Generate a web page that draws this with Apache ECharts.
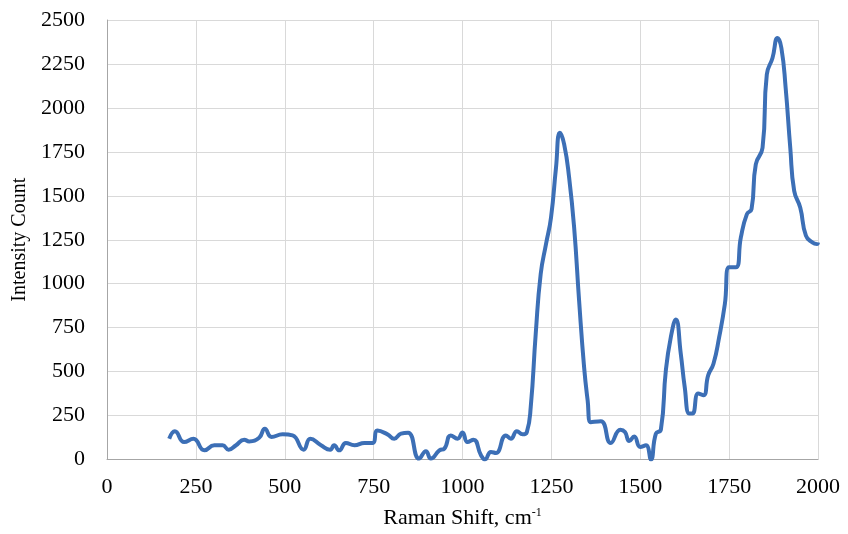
<!DOCTYPE html>
<html>
<head>
<meta charset="utf-8">
<script src="https://cdn.jsdelivr.net/npm/echarts@6/dist/echarts.min.js"></script>
<style>html,body{margin:0;padding:0;background:#fff;}#chart{width:848px;height:534px;}</style>
</head>
<body>
<div id="chart"></div>
<script>
const ramanShift = [175,191,217,243,274,302,325,342,363,386,400,428,444,463,494,522,553,572,602,628,639,653,672,696,724,747,761,789,808,827,847,878,897,911,935,949,967,986,1000,1014,1031,1052,1063,1080,1094,1122,1136,1153,1169,1181,1192,1206,1220,1235,1249,1263,1274,1286,1300,1314,1328,1342,1352,1361,1389,1417,1444,1457,1469,1483,1500,1516,1530,1544,1558,1572,1586,1600,1614,1625,1638,1647,1663,1678,1691,1706,1722,1738,1750,1769,1783,1800,1813,1825,1844,1856,1872,1886,1897,1909,1922,1933,1950,1966,1984,1997,2000];
const intensity = [118,161,99,118,52,81,81,56,81,113,103,124,175,128,143,137,56,118,81,56,81,52,94,81,94,94,165,143,118,147,152,5,47,5,52,62,137,118,154,99,113,24,0,43,37,137,118,161,143,156,300,716,1056,1226,1377,1660,1859,1793,1603,1320,904,526,337,212,218,94,169,156,105,131,71,81,0,147,170,507,696,797,602,413,262,262,375,366,479,545,696,885,1093,1093,1263,1396,1424,1679,1773,2190,2284,2397,2341,2114,1773,1528,1433,1273,1235,1226,1235];
const xTicks = [0,250,500,750,1000,1250,1500,1750,2000];
const yTicks = [0,250,500,750,1000,1250,1500,1750,2000,2250,2500];

const seriesData = ramanShift.map((x, i) => [x, intensity[i]]);
const font = 'Liberation Serif';
const chart = echarts.init(document.getElementById('chart'), null, {renderer: 'canvas'});
chart.setOption({
  animation: false,
  backgroundColor: '#ffffff',
  grid: {left: 107, right: 30, top: 20, bottom: 74.5, containLabel: false},
  xAxis: {
    type: 'value', min: xTicks[0], max: xTicks[xTicks.length-1], interval: 250,
    name: '{a|Raman Shift, cm}{s|-1}',
    nameLocation: 'middle', nameGap: 47,
    nameTextStyle: {rich: {
      a: {fontFamily: font, fontSize: 22, color: '#000'},
      s: {fontFamily: font, fontSize: 12, color: '#000', verticalAlign: 'top', padding: [0,0,11,0]}
    }},
    axisLine: {show: true, lineStyle: {color: '#a6a6a6', width: 1}},
    axisTick: {show: false},
    axisLabel: {fontFamily: font, fontSize: 22, color: '#000', margin: 17, formatter: v => String(v)},
    splitLine: {show: true, lineStyle: {color: '#d9d9d9', width: 1}}
  },
  yAxis: {
    type: 'value', min: yTicks[0], max: yTicks[yTicks.length-1], interval: 250,
    name: 'Intensity Count', nameLocation: 'middle', nameGap: 66,
    nameTextStyle: {fontFamily: font, fontSize: 20, color: '#000'},
    axisLine: {show: true, lineStyle: {color: '#a6a6a6', width: 1}},
    axisTick: {show: false},
    axisLabel: {fontFamily: font, fontSize: 22, color: '#000', margin: 22, formatter: v => String(v)},
    splitLine: {show: true, lineStyle: {color: '#d9d9d9', width: 1}}
  },
  series: [{
    type: 'line', data: seriesData, showSymbol: false, smooth: 0.5,
    lineStyle: {color: '#3c6fb6', width: 4}, clip: true
  }]
});
</script>
</body>
</html>
